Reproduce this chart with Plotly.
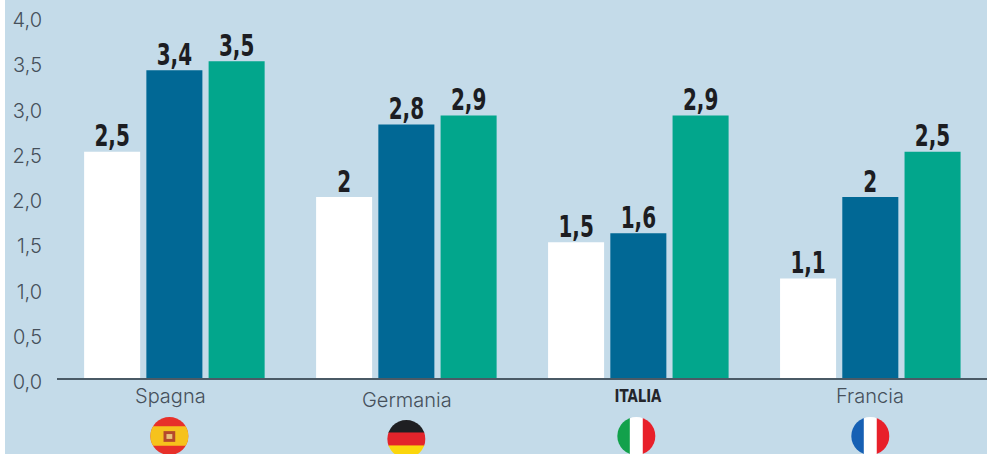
import plotly.graph_objects as go
import base64

categories = ["Spagna", "Germania", "ITALIA", "Francia"]
serie_a = [2.5, 2.0, 1.5, 1.1]
serie_b = [3.4, 2.8, 1.6, 2.0]
serie_c = [3.5, 2.9, 2.9, 2.5]
labels_a = ["2,5", "2", "1,5", "1,1"]
labels_b = ["3,4", "2,8", "1,6", "2"]
labels_c = ["3,5", "2,9", "2,9", "2,5"]
y_ticks = [0, 0.5, 1, 1.5, 2, 2.5, 3, 3.5, 4]
y_tick_labels = ["0,0", "0,5", "1,0", "1,5", "2,0", "2,5", "3,0", "3,5", "4,0"]
colors = ["#ffffff", "#016895", "#02a68c"]

BG = "#c4dbe9"
W, H = 987, 454
TOP, BOTTOM = 16, 378  # plot area
VALFONT = dict(family="'DejaVu Sans Condensed', sans-serif", size=30, color="#1c1d22", weight=700)


def svg_uri(body):
    svg = ('<svg xmlns="http://www.w3.org/2000/svg" viewBox="0 0 40 40">'
           '<defs><clipPath id="c"><circle cx="20" cy="20" r="19.5"/></clipPath></defs>'
           '<g clip-path="url(#c)">' + body + '</g></svg>')
    return "data:image/svg+xml;base64," + base64.b64encode(svg.encode()).decode()


flags = {
    "Spagna": svg_uri('<rect width="40" height="40" fill="#e7302a"/><rect y="10" width="40" height="20" fill="#f6c21c"/>'
                      '<rect x="14" y="15" width="12" height="11" fill="#b5482c"/><rect x="17" y="18" width="6" height="5" fill="#e8c27a"/>'),
    "Germania": svg_uri('<rect width="40" height="14" fill="#1f1f22"/><rect y="13.3" width="40" height="14" fill="#e3242b"/>'
                        '<rect y="26.6" width="40" height="14" fill="#fbd60c"/>'),
    "ITALIA": svg_uri('<rect width="14" height="40" fill="#12a14b"/><rect x="13.3" width="14" height="40" fill="#ffffff"/>'
                      '<rect x="26.6" width="14" height="40" fill="#e8202a"/>'),
    "Francia": svg_uri('<rect width="14" height="40" fill="#1660b4"/><rect x="13.3" width="14" height="40" fill="#ffffff"/>'
                       '<rect x="26.6" width="14" height="40" fill="#e8202a"/>'),
}
flag_offset = {"Spagna": (-5, 436), "Germania": (0, 439), "ITALIA": (-2, 436), "Francia": (0, 436)}
label_offset = {"Spagna": (-4, 396), "Germania": (1, 400), "ITALIA": (-0.5, 396), "Francia": (0, 396)}

fig = go.Figure()
for vals, labs, col in zip([serie_a, serie_b, serie_c], [labels_a, labels_b, labels_c], colors):
    fig.add_bar(x=categories, y=vals, marker=dict(color=col, line_width=0), text=labs,
                textposition="outside", textfont=VALFONT, cliponaxis=False, showlegend=False)

px_per_cat = 232
images = []
annotations = []
for i, c in enumerate(categories):
    dx, fy = flag_offset[c]
    images.append(dict(source=flags[c], xref="x", yref="paper", x=i + dx / px_per_cat,
                       y=1 - (fy - 19.5 - TOP) / (BOTTOM - TOP), sizex=39 / px_per_cat,
                       sizey=39 / (BOTTOM - TOP), xanchor="center", yanchor="top", layer="above",
                       sizing="stretch"))
    lx, ly = label_offset[c]
    bold = c == "ITALIA"
    annotations.append(dict(x=i + lx / px_per_cat, xref="x", y=1 - (ly - TOP) / (BOTTOM - TOP), yref="paper",
                            text=c, showarrow=False, yanchor="middle",
                            font=dict(family="'DejaVu Sans Condensed', sans-serif", size=17, color="#23252b", weight=700) if bold
                            else dict(family="Inter, sans-serif", size=20, color="#46505b", weight=300)))

fig.update_layout(
    width=W, height=H, autosize=False,
    paper_bgcolor=BG, plot_bgcolor=BG,
    margin=dict(l=57, r=0, t=TOP, b=H - BOTTOM, pad=0),
    barmode="group", bargap=0.195, bargroupgap=0.1,
    images=images, annotations=annotations,
    shapes=[dict(type="rect", xref="paper", yref="paper", x0=-57 / 930, x1=-52 / 930, y0=-76 / 362, y1=1 + 16 / 362,
                 fillcolor="#ffffff", line_width=0, layer="above")],
    xaxis=dict(range=[-0.506, 3.503], showticklabels=False, ticks="", showgrid=False, zeroline=False,
               showline=True, linecolor="#4a5a66", linewidth=1.5, type="category"),
    yaxis=dict(range=[0, 4], tickvals=y_ticks, ticktext=y_tick_labels, showgrid=False, zeroline=False,
               showline=False, ticks="", ticklabelshift=4, ticklabelstandoff=14,
               tickfont=dict(family="Inter, sans-serif", size=20, color="#46505b", weight=300)),
)
squeeze = """
document.body.style.margin='0';document.body.style.overflow='hidden';
function sq(t,r){var l=t.getComputedTextLength();t.setAttribute('textLength',l*r);t.setAttribute('lengthAdjust','spacingAndGlyphs');}
document.querySelectorAll('.bartext text, text.bartext').forEach(function(t){sq(t,0.74);t.setAttribute('dy','4.5');});
document.querySelectorAll('.annotation-text').forEach(function(t){if(t.textContent==='ITALIA')sq(t,0.87);});
"""
fig.write_html("out.html", config=dict(displayModeBar=False), post_script=squeeze)
